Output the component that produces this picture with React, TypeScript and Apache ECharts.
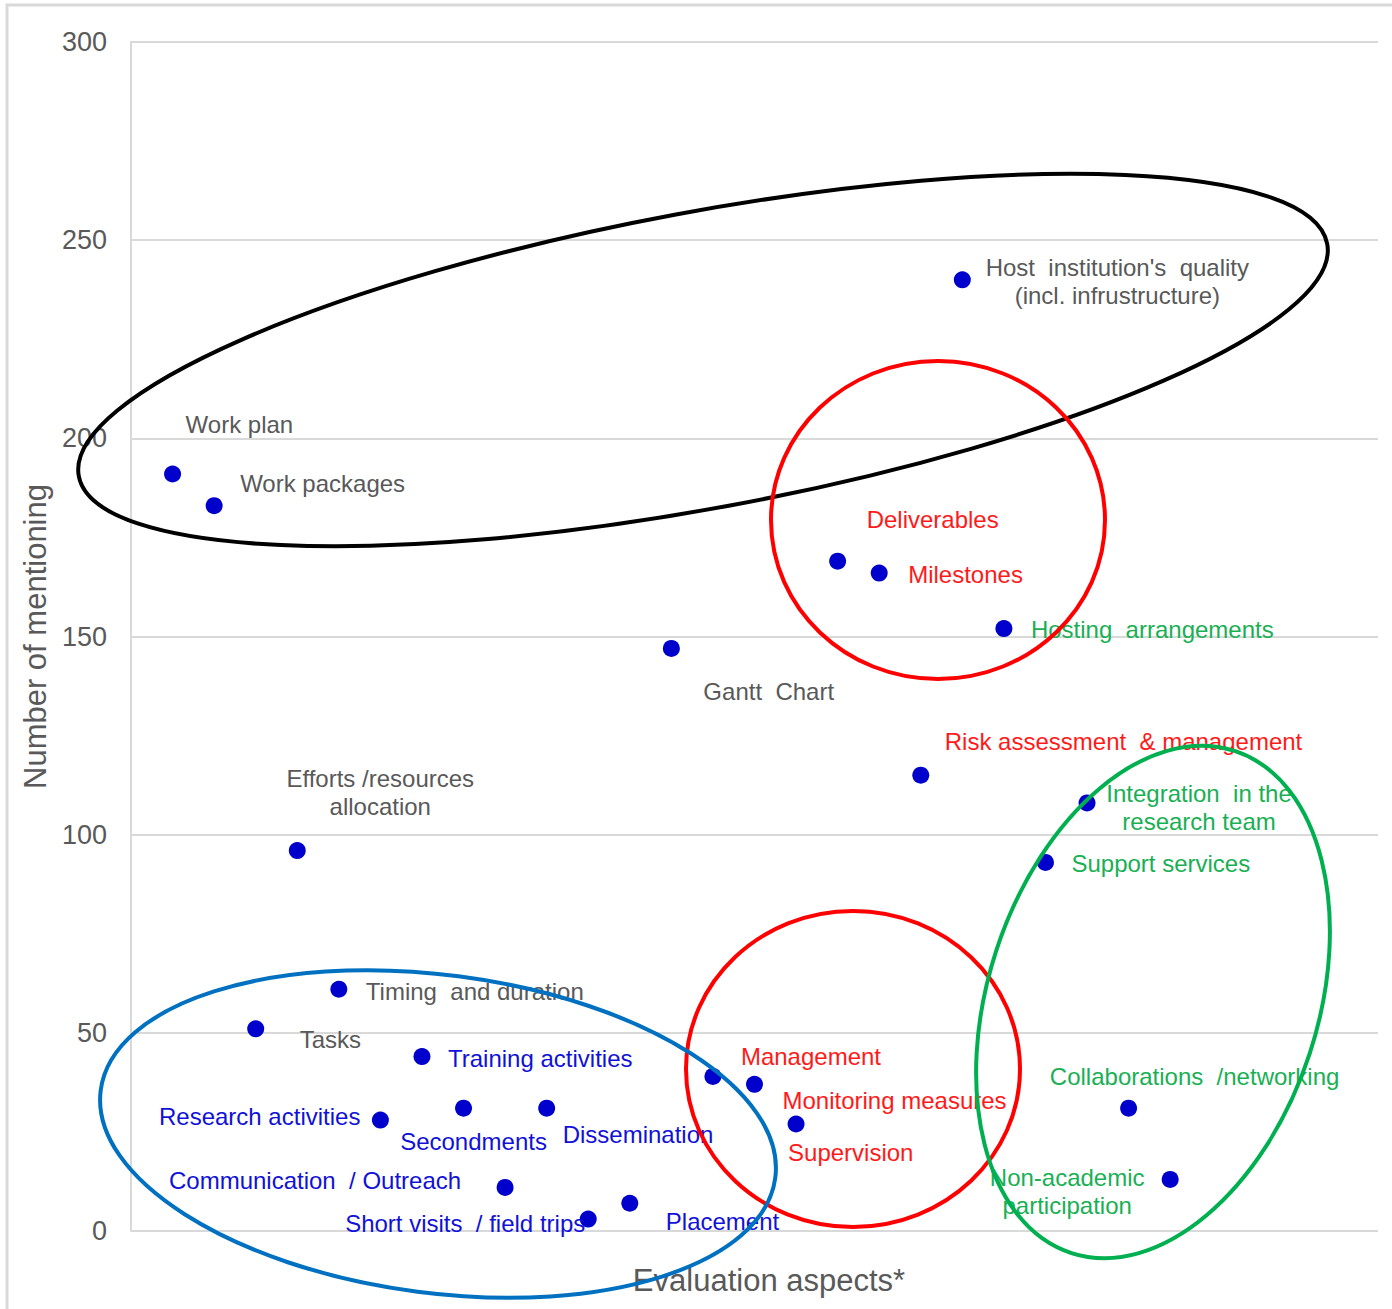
import React, { useEffect, useRef } from "react";
import * as echarts from "echarts";

// ---- data ----
const aspects = [
  "Work plan",
  "Work packages",
  "Tasks",
  "Efforts /resources\nallocation",
  "Timing  and duration",
  "Research activities",
  "Training activities",
  "Secondments",
  "Communication  / Outreach",
  "Dissemination",
  "Short visits  / field trips",
  "Placement",
  "Gantt  Chart",
  "Management",
  "Monitoring measures",
  "Supervision",
  "Deliverables",
  "Milestones",
  "Risk assessment  & management",
  "Host  institution's  quality\n(incl. infrustructure)",
  "Hosting  arrangements",
  "Support services",
  "Integration  in the\nresearch team",
  "Collaborations  /networking",
  "Non-academic\nparticipation",
];
const mentions = [191, 183, 51, 96, 61, 28, 44, 31, 11, 31, 3, 7, 147, 39, 37, 27, 169, 166, 115, 240, 152, 93, 108, 31, 13];
const labelGroup = [
  "general", "general", "general", "general", "general",
  "activity", "activity", "activity", "activity", "activity", "activity", "activity",
  "general",
  "management", "management", "management", "management", "management", "management",
  "general",
  "hosting", "hosting", "hosting", "hosting", "hosting",
];
const yTicks = [0, 50, 100, 150, 200, 250, 300];

// ---- styles / layout ----
const FONT = "'Liberation Sans', Arial, sans-serif";
const groupColor: Record<string, string> = {
  general: "#595959",
  activity: "#1111d8",
  management: "#ff1a1a",
  hosting: "#19b054",
};
// label anchor offsets (pixels from the dot centre)
const labelLayout: [string, number, number][] = [
  ["left", 13, -50],
  ["left", 26, -22],
  ["left", 44, 11],
  ["center", 83, -58],
  ["left", 27, 2],
  ["right", -20, -4],
  ["left", 26, 2],
  ["center", 10, 33],
  ["right", -44, -7],
  ["left", 16, 26],
  ["right", -3, 4],
  ["left", 36, 18],
  ["left", 32, 43],
  ["left", 28, -20],
  ["left", 28, 16],
  ["left", -8, 29],
  ["left", 29, -42],
  ["left", 29, 1],
  ["left", 24, -34],
  ["center", 155, 2],
  ["left", 27, 1],
  ["left", 26, 1],
  ["center", 112, 5],
  ["center", 66, -32],
  ["center", -103, 12],
];

const deg = Math.PI / 180;
const ellipses = [
  { cx: 703, cy: 360, rx: 635, ry: 148, rot: 10.55, color: "#000000" },
  { cx: 938, cy: 520, rx: 167, ry: 159, rot: 0, color: "#ff0000" },
  { cx: 853, cy: 1069, rx: 167, ry: 158, rot: 0, color: "#ff0000" },
  { cx: 1153, cy: 1002, rx: 165, ry: 264, rot: -18, color: "#00b050" },
  { cx: 438, cy: 1134, rx: 340, ry: 159, rot: -7.4, color: "#0070c0" },
];

export default function App() {
  const ref = useRef<HTMLDivElement>(null);
  useEffect(() => {
    if (!ref.current) return;
    const chart = echarts.init(ref.current, null, { renderer: "svg" });
    const data = mentions.map((v, i) => {
      const [align, dx, dy] = labelLayout[i];
      return {
        name: aspects[i],
        value: [i + 1, v],
        label: {
          show: true,
          formatter: aspects[i],
          position: "inside",
          align,
          verticalAlign: "middle",
          offset: [dx, dy],
          color: groupColor[labelGroup[i]],
          fontSize: 24,
          lineHeight: 28,
          fontFamily: FONT,
        },
      };
    });
    chart.setOption({
      animation: false,
      backgroundColor: "#ffffff",
      grid: { left: 131, right: 14, top: 42, bottom: 78, containLabel: false },
      xAxis: {
        type: "value",
        min: 0,
        max: 30,
        axisLine: { show: false },
        axisTick: { show: false },
        axisLabel: { show: false },
        splitLine: { show: false },
      },
      yAxis: {
        type: "value",
        min: yTicks[0],
        max: yTicks[yTicks.length - 1],
        interval: 50,
        name: "Number of mentioning",
        nameLocation: "middle",
        nameRotate: 90,
        nameGap: 80,
        nameTextStyle: { color: "#595959", fontSize: 31, fontFamily: FONT },
        axisLine: { show: true, lineStyle: { color: "#d9d9d9", width: 2 } },
        axisTick: { show: false },
        axisLabel: { color: "#595959", fontSize: 27, fontFamily: FONT, margin: 24 },
        splitLine: { show: true, lineStyle: { color: "#d9d9d9", width: 2 } },
      },
      series: [
        {
          type: "scatter",
          symbol: "circle",
          symbolSize: 17,
          itemStyle: { color: "#0000cc", opacity: 1 },
          data,
          z: 3,
        },
      ],
      graphic: [
        {
          type: "rect",
          shape: { x: 7, y: 5, width: 1500, height: 1500 },
          style: { fill: "none", stroke: "#d9d9d9", lineWidth: 3 },
          z: 1,
          silent: true,
        },
        {
          type: "text",
          x: 769,
          y: 1280,
          style: {
            text: "Evaluation aspects*",
            fill: "#595959",
            fontSize: 31,
            fontFamily: FONT,
            align: "center",
            verticalAlign: "middle",
          },
          z: 5,
        },
        ...ellipses.map((e) => ({
          type: "ellipse",
          x: e.cx,
          y: e.cy,
          rotation: e.rot * deg,
          shape: { cx: 0, cy: 0, rx: e.rx, ry: e.ry },
          style: { fill: "none", stroke: e.color, lineWidth: 4 },
          z: 100,
          silent: true,
        })),
      ],
    });
    return () => chart.dispose();
  }, []);
  return (
    <div
      ref={ref}
      style={{ position: "fixed", left: 0, top: 0, width: 1392, height: 1309, background: "#fff" }}
    />
  );
}
